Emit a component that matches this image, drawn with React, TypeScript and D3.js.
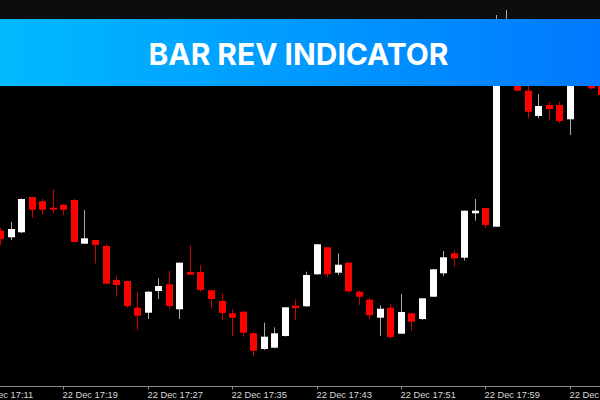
import React from 'react';
import * as d3 from 'd3';

const W = 600;
const H = 400;

// minute of 17:xx for each candle
const minutes = [13, 14, 15, 16, 17, 18, 19, 20, 21, 22, 23, 24, 25, 26, 27, 28, 29, 30, 31, 32, 33, 34, 35, 36, 37, 38, 39, 40, 41, 42, 43, 44, 45, 46, 47, 48, 49, 50, 51, 52, 53, 54, 55, 56, 57, 58, 59, 60, 61, 62, 63, 64, 65, 66, 67, 68, 69, 70];
const open = [169.3, 162.7, 167.7, 203, 198.7, 192.3, 195.3, 200, 156.3, 160, 154, 120, 119, 92.3, 87.3, 109, 115.7, 90.7, 128, 128, 109.7, 99, 86.7, 88.3, 66.7, 51, 52.3, 64, 94.3, 93.7, 125.7, 152.7, 127.3, 137.3, 108.3, 100.3, 82.3, 92.3, 66.3, 86.7, 81, 103.3, 126.7, 146.7, 142.3, 186.7, 192, 173.3, 330, 340, 309.3, 284, 295, 295, 280.7, 335, 330, 320];
const high = [172, 178.3, 201.5, 203, 201, 210.7, 196, 201, 190, 160, 155.7, 123.3, 119.5, 108.3, 108.5, 121.7, 129.3, 137.5, 154.3, 135, 110, 106.7, 91, 88.5, 67.7, 77.3, 72.7, 93, 100.7, 128.3, 156, 153, 146.7, 137.5, 109.3, 102, 94.7, 96, 106, 87, 102, 131, 149, 150, 189.5, 201, 192.5, 385, 390, 350, 315, 305.7, 298, 298, 340, 345, 340, 325];
const low = [155, 160, 167, 182.3, 185, 187, 185, 157.5, 156.3, 136.7, 116, 103.3, 92.3, 70, 81, 101, 90.7, 81, 125.3, 108.3, 92, 80, 64, 63.3, 44, 50, 51.7, 63.5, 80, 93.5, 125.5, 122.7, 125, 107.3, 95, 81, 64, 61, 66, 69, 80, 103, 124, 133.3, 139.5, 179.3, 171.7, 173, 325, 309, 281.7, 281.7, 279.3, 277, 265, 316, 310.7, 304];
const close = [161, 171, 201, 190.3, 190.3, 190.3, 190.3, 158, 161.7, 155, 116.3, 115, 94, 84.3, 108.3, 114, 94, 137.3, 125.3, 110, 101, 87, 82.3, 67.3, 49.3, 63.3, 66.7, 92.7, 92, 125, 155.7, 125.7, 135.3, 108.7, 103.3, 84.7, 91.3, 63, 88, 78.3, 101.7, 130.7, 142.7, 141.7, 189.3, 189.3, 175, 360, 370, 309.3, 288.3, 294, 291, 279, 330, 320, 311.7, 305];

const tickMinutes = [11, 19, 27, 35, 43, 51, 59, 67];
const tickLabels = ['22 Dec 17:11', '22 Dec 17:19', '22 Dec 17:27', '22 Dec 17:35', '22 Dec 17:43', '22 Dec 17:51', '22 Dec 17:59', '22 Dec 18:07'];
const title = 'BAR REV INDICATOR';

export default function App() {
  React.useEffect(() => {
    document.body.style.margin = '0';
    document.body.style.background = '#000';
  }, []);

  const x = d3.scaleLinear().domain([19, 67]).range([63.3, 569.7]);
  const y = d3.scaleLinear().domain([0, 400]).range([400, 0]);

  const candles = minutes.map((m, i) => ({ m, o: open[i], h: high[i], l: low[i], c: close[i] }));

  return (
    <div style={{ position: 'fixed', left: 0, top: 0, width: W, height: H, background: '#000' }}>
      <svg width={W} height={H} viewBox={`0 0 ${W} ${H}`} style={{ display: 'block' }}>
        <defs>
          <linearGradient id="bannerGrad" x1="0" y1="0" x2="1" y2="0">
            <stop offset="0%" stopColor="#00baff" />
            <stop offset="100%" stopColor="#0079ff" />
          </linearGradient>
        </defs>
        <rect x={0} y={0} width={W} height={H} fill="#000" />
        <rect x={0} y={0} width={W} height={19} fill="#0d0d0d" />
        {candles.map((d) => {
          const cx = Math.round(x(d.m));
          const bull = d.c >= d.o;
          const top = y(Math.max(d.o, d.c));
          const bot = y(Math.min(d.o, d.c));
          return (
            <g key={d.m}>
              <rect x={cx} y={y(d.h)} width={1} height={Math.max(1, y(d.l) - y(d.h))} fill={bull ? '#a8a8a8' : '#d00000'} />
              <rect x={cx - 3} y={top} width={7} height={Math.max(1.5, bot - top)} fill={bull ? '#ffffff' : '#ff0000'} />
            </g>
          );
        })}
        <rect x={0} y={19} width={W} height={67} fill="url(#bannerGrad)" />
        <text x={298.5} y={65} textAnchor="middle" fill="#ffffff" fontFamily="Inter, 'Open Sans', sans-serif" fontWeight={700} fontSize={30} textLength={300} lengthAdjust="spacingAndGlyphs">{title}</text>
        <line x1={0} x2={W} y1={386.5} y2={386.5} stroke="#8a8a8a" strokeWidth={1} />
        {tickMinutes.map((m, i) => {
          const tx = Math.round(x(m)) + 0.5;
          return (
            <g key={m}>
              <line x1={tx} x2={tx} y1={387} y2={389.5} stroke="#8a8a8a" strokeWidth={1} />
              <text x={tx - 1} y={397.5} fill="#d8d8d8" fontFamily="'Liberation Sans', Arial, sans-serif" fontSize={9.3}>{tickLabels[i]}</text>
            </g>
          );
        })}
      </svg>
    </div>
  );
}
